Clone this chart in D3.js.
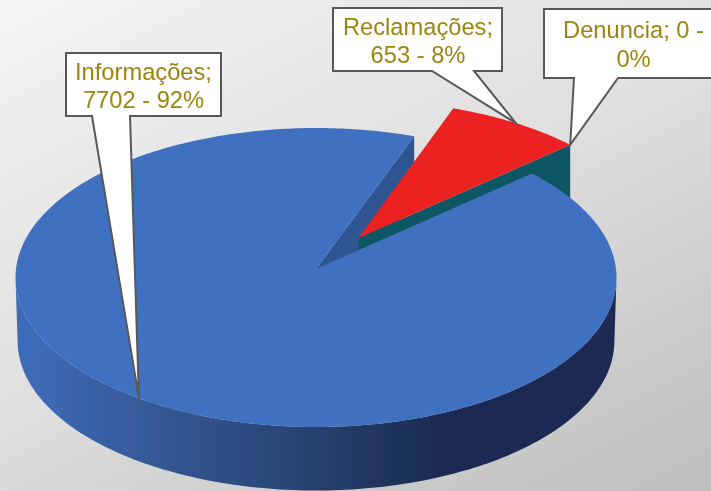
<!DOCTYPE html>
<html><head><meta charset="utf-8">
<script src="https://cdn.jsdelivr.net/npm/d3@7/dist/d3.min.js"></script>
<style>html,body{margin:0;padding:0;overflow:hidden;background:#ddd}svg{display:block}</style>
</head><body><div id="c"></div>
<script>
// --- data ---
const categories = ["Informações", "Reclamações", "Denuncia"];
const values = [7702, 653, 0];
const labelLines = [["Informações;", "7702 - 92%"], ["Reclamações;", "653 - 8%"], ["Denuncia; 0 -", "0%"]];
const sliceColors = ["#4170c0", "#ec2020", "#a5a5a5"];

// --- layout ---
const W = 711, H = 491;
const CX = 316, CY = 269, R = 300, A = 133.7, C = -0.0569, DEPTH = 63.5, BOTTOM_SCALE = 0.993;
const START = 48.3 * Math.PI / 180;
const EXPLODE = 0.254;
const SIDE = 3.5 * Math.PI / 180;
const boxes = [
  {x0: 66,  x1: 221, y0: 53, y1: 116, b0: 92,  b1: 130, tx: 143.5, base: 80, lh: 28},
  {x0: 333, x1: 502, y0: 8,  y1: 71,  b0: 432, b1: 474, tx: 418, base: 35, lh: 28},
  {x0: 544, x1: 722, y0: 9,  y1: 78,  b0: 574, b1: 618, tx: 633.5, base: 38, lh: 28.5}
];

const svg = d3.select("#c").append("svg").attr("width", W).attr("height", H);
const defs = svg.append("defs");
const bg = defs.append("linearGradient").attr("id", "bg")
  .attr("gradientUnits", "userSpaceOnUse").attr("x1", 0).attr("y1", 0).attr("x2", 333).attr("y2", 667);
bg.append("stop").attr("offset", 0).attr("stop-color", "#f4f4f4");
bg.append("stop").attr("offset", 0.5).attr("stop-color", "#dfdfdf");
bg.append("stop").attr("offset", 1).attr("stop-color", "#bfbfbf");
const wall = defs.append("linearGradient").attr("id", "wall")
  .attr("gradientUnits", "userSpaceOnUse").attr("x1", 15).attr("y1", 0).attr("x2", 616).attr("y2", 0);
[[0, "#3f6cb9"], [0.1, "#3b64ac"], [0.27, "#33558f"], [0.5, "#27406f"], [0.7, "#1a2c52"], [1, "#1a2c52"]]
  .forEach(([o, c]) => wall.append("stop").attr("offset", o).attr("stop-color", c));
const blur = defs.append("filter").attr("id", "soft").attr("x", "-5%").attr("y", "-5%").attr("width", "110%").attr("height", "110%");
blur.append("feGaussianBlur").attr("stdDeviation", 0.45);

svg.append("rect").attr("width", W).attr("height", H).attr("fill", "url(#bg)");

// perspective projection of the unit disc
const project = (u, v, drop = 0, s = 1) => {
  const k = 1 + C * v;
  return [CX + s * R * u / k, (A * v + CY) / k + drop];
};
const rim = a => [Math.sin(a), -Math.cos(a)];
const line = d3.line().curve(d3.curveLinear);

const arcs = d3.pie().value(d => d).sort(null).startAngle(START).endAngle(START + 2 * Math.PI)(values);
const offset = (d, i) => {
  if (i === 0) return [0, 0];
  const m = (arcs[1].startAngle + arcs[1].endAngle) / 2;
  return [EXPLODE * Math.sin(m), -EXPLODE * Math.cos(m)];
};
const sample = (a0, a1, n = 160) => d3.range(n + 1).map(i => a0 + (a1 - a0) * i / n);
const pt = (a, off, drop, s) => { const r = rim(a); return project(r[0] + off[0], r[1] + off[1], drop, s); };

const g = svg.append("g").attr("filter", "url(#soft)");

// outer wall of the main slice, from widest point to widest point
const wa = sample(Math.PI / 2 + SIDE, Math.PI * 1.5 - SIDE);
g.append("path").attr("fill", "url(#wall)")
  .attr("d", line([...wa.map(a => pt(a, [0, 0], 0)), ...wa.slice().reverse().map(a => pt(a, [0, 0], DEPTH, BOTTOM_SCALE))]) + "Z");

// cut wall of the main slice
const blue = arcs[0], red = arcs[1];
const apex0 = project(0, 0), apexD = project(0, 0, DEPTH);
g.append("path").attr("fill", "#2f5592")
  .attr("d", line([apex0, pt(blue.endAngle, [0, 0]), pt(blue.endAngle, [0, 0], DEPTH), apexD]) + "Z");

// cut wall of the exploded slice
const off = offset(red, 1);
const apexR = project(off[0], off[1]), apexRD = project(off[0], off[1], DEPTH);
g.append("path").attr("fill", "#115663")
  .attr("d", line([apexR, pt(red.endAngle, off), pt(red.endAngle, off, DEPTH), apexRD]) + "Z");

// top faces
g.append("path").attr("fill", sliceColors[0])
  .attr("d", line([apex0, ...sample(blue.startAngle, blue.endAngle, 400).map(a => pt(a, [0, 0]))]) + "Z");
g.append("path").attr("fill", sliceColors[1])
  .attr("d", line([apexR, ...sample(red.startAngle, red.endAngle, 60).map(a => pt(a, off))]) + "Z");

// callouts, tip anchored on each slice's rim
arcs.forEach((d, i) => {
  const b = boxes[i];
  const m = i === 2 ? d.startAngle : (d.startAngle + d.endAngle) / 2;
  const tip = pt(m, offset(d, i));
  const cg = svg.append("g").attr("filter", "url(#soft)");
  cg.append("path")
    .attr("d", line([[b.x0, b.y0], [b.x1, b.y0], [b.x1, b.y1], [b.b1, b.y1], tip, [b.b0, b.y1], [b.x0, b.y1]]) + "Z")
    .attr("fill", "#ffffff").attr("stroke", "#595959").attr("stroke-width", 2).attr("stroke-linejoin", "miter").attr("stroke-miterlimit", 30);
  labelLines[i].forEach((t, j) => {
    cg.append("text").text(t)
      .attr("x", b.tx).attr("y", b.base + j * b.lh)
      .attr("text-anchor", "middle")
      .attr("font-family", "'Liberation Sans', Arial, sans-serif")
      .attr("font-size", 23.7).attr("fill", "#9c8410");
  });
});
</script></body></html>
